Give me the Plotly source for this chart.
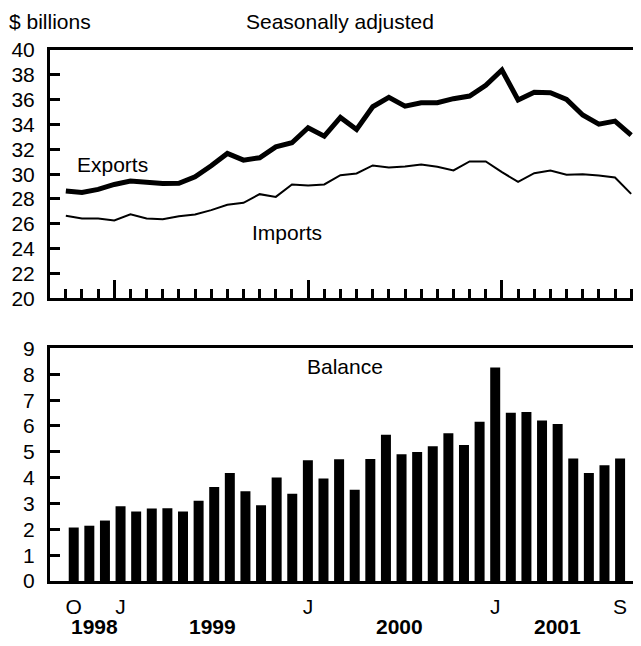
import plotly.graph_objects as go

# Monthly data, Oct 1998 - Sep 2001 ($ billions, seasonally adjusted)
months = ["Oct 98", "Nov 98", "Dec 98",
          "Jan 99", "Feb 99", "Mar 99", "Apr 99", "May 99", "Jun 99",
          "Jul 99", "Aug 99", "Sep 99", "Oct 99", "Nov 99", "Dec 99",
          "Jan 00", "Feb 00", "Mar 00", "Apr 00", "May 00", "Jun 00",
          "Jul 00", "Aug 00", "Sep 00", "Oct 00", "Nov 00", "Dec 00",
          "Jan 01", "Feb 01", "Mar 01", "Apr 01", "May 01", "Jun 01",
          "Jul 01", "Aug 01", "Sep 01"]

exports = [28.65, 28.52, 28.77, 29.17, 29.44, 29.30, 29.25, 29.27, 29.78,
           30.67, 31.67, 31.13, 31.32, 32.20, 32.53, 33.74, 33.06, 34.57,
           33.60, 35.43, 36.18, 35.48, 35.75, 35.75, 36.08, 36.29, 37.15,
           38.39, 35.97, 36.60, 36.56, 36.02, 34.76, 34.03, 34.27, 33.15]

imports = [26.64, 26.43, 26.43, 26.27, 26.77, 26.43, 26.37, 26.61, 26.75,
           27.10, 27.53, 27.69, 28.39, 28.17, 29.17, 29.09, 29.17, 29.92,
           30.06, 30.70, 30.54, 30.62, 30.78, 30.59, 30.30, 31.02, 31.02,
           30.16, 29.38, 30.08, 30.30, 29.95, 30.00, 29.90, 29.73, 28.41]

balance = [2.07, 2.14, 2.34, 2.89, 2.69, 2.81, 2.82, 2.69, 3.11,
           3.64, 4.18, 3.47, 2.93, 4.01, 3.38, 4.67, 3.97, 4.71,
           3.53, 4.72, 5.66, 4.91, 4.99, 5.22, 5.72, 5.26, 6.16,
           8.26, 6.51, 6.54, 6.21, 6.08, 4.74, 4.18, 4.48, 4.74]

month_tick_idx = [0, 3, 15, 27, 35]
month_tick_text = ["O", "J", "J", "J", "S"]
january_idx = [3, 15, 27]
years = ["1998", "1999", "2000", "2001"]
year_centers = [1.35, 8.9, 20.9, 31.0]

top_ticks = list(range(20, 41, 2))
bottom_ticks = list(range(0, 10))

idx = list(range(len(months)))
FONT = "Liberation Sans, Arial, sans-serif"
FS = 21

fig = go.Figure()
fig.add_trace(go.Scatter(x=idx, y=exports, mode="lines", name="Exports",
                         line=dict(color="black", width=5),
                         xaxis="x", yaxis="y"))
fig.add_trace(go.Scatter(x=idx, y=imports, mode="lines", name="Imports",
                         line=dict(color="black", width=2),
                         xaxis="x", yaxis="y"))
fig.add_trace(go.Bar(x=idx, y=balance, name="Balance", width=0.64,
                     marker=dict(color="black", line=dict(width=0)),
                     xaxis="x2", yaxis="y2"))

top_dom = [0.5324, 1.0]
bot_dom = [0.0, 0.4379]

fig.update_layout(
    width=633, height=638,
    margin=dict(l=42, r=0, t=42, b=65),
    paper_bgcolor="white", plot_bgcolor="white",
    showlegend=False,
    font=dict(family=FONT, size=FS, color="black"),
    xaxis=dict(domain=[0, 1], anchor="y", range=[-0.98, 35.61],
               showline=True, linewidth=3, linecolor="black", mirror=True,
               ticks="inside", tickvals=january_idx, ticklen=18,
               tickwidth=3, tickcolor="black", showticklabels=False,
               showgrid=False, zeroline=False,
               minor=dict(tickvals=idx, ticks="inside", ticklen=9,
                          tickwidth=3, tickcolor="black", showgrid=False)),
    yaxis=dict(domain=top_dom, anchor="x", range=[20, 40],
               showline=True, linewidth=3, linecolor="black",
               ticks="inside", tickvals=top_ticks, ticklen=10, tickwidth=3,
               tickcolor="black", ticklabelstandoff=8,
               showgrid=False, zeroline=False),
    yaxis3=dict(overlaying="y", side="right", anchor="free", position=1,
                range=[20, 40], ticks="inside", tickvals=top_ticks[1:-1],
                ticklen=5, tickwidth=3, tickcolor="black",
                showticklabels=False, showline=False, showgrid=False,
                zeroline=False),
    xaxis2=dict(domain=[0, 1], anchor="y2", range=[-1.52, 36.34],
                showline=True, linewidth=3, linecolor="black", mirror=True,
                ticks="", tickvals=month_tick_idx, ticktext=month_tick_text,
                ticklabelstandoff=5, showgrid=False, zeroline=False),
    yaxis2=dict(domain=bot_dom, anchor="x2", range=[0, 9],
                showline=True, linewidth=3, linecolor="black",
                ticks="inside", tickvals=bottom_ticks, ticklen=10, tickwidth=3,
                tickcolor="black", ticklabelstandoff=8,
                showgrid=False, zeroline=False),
)

annotations = [
    dict(text="$ billions", xref="paper", yref="paper", x=0, y=1,
         xshift=-43, yshift=29, xanchor="left", yanchor="middle",
         showarrow=False, font=dict(size=FS)),
    dict(text="Seasonally adjusted", xref="paper", yref="paper", x=0.4907,
         y=1, yshift=29, xanchor="center", yanchor="middle",
         showarrow=False, font=dict(size=FS)),
    dict(text="Exports", xref="x", yref="y", x=2.86, y=30.75,
         xanchor="center", yanchor="middle", showarrow=False,
         font=dict(size=FS)),
    dict(text="Imports", xref="x", yref="y", x=13.69, y=25.29,
         xanchor="center", yanchor="middle", showarrow=False,
         font=dict(size=FS)),
    dict(text="Balance", xref="x2", yref="y2", x=17.38, y=8.32,
         xanchor="center", yanchor="middle", showarrow=False,
         font=dict(size=FS)),
]
for yr, xc in zip(years, year_centers):
    annotations.append(dict(text="<b>" + yr + "</b>", xref="x2", yref="paper",
                            x=xc, y=0, yshift=-45, xanchor="center",
                            yanchor="middle", showarrow=False,
                            font=dict(size=FS)))
fig.update_layout(annotations=annotations)

fig.write_html("out.html")
